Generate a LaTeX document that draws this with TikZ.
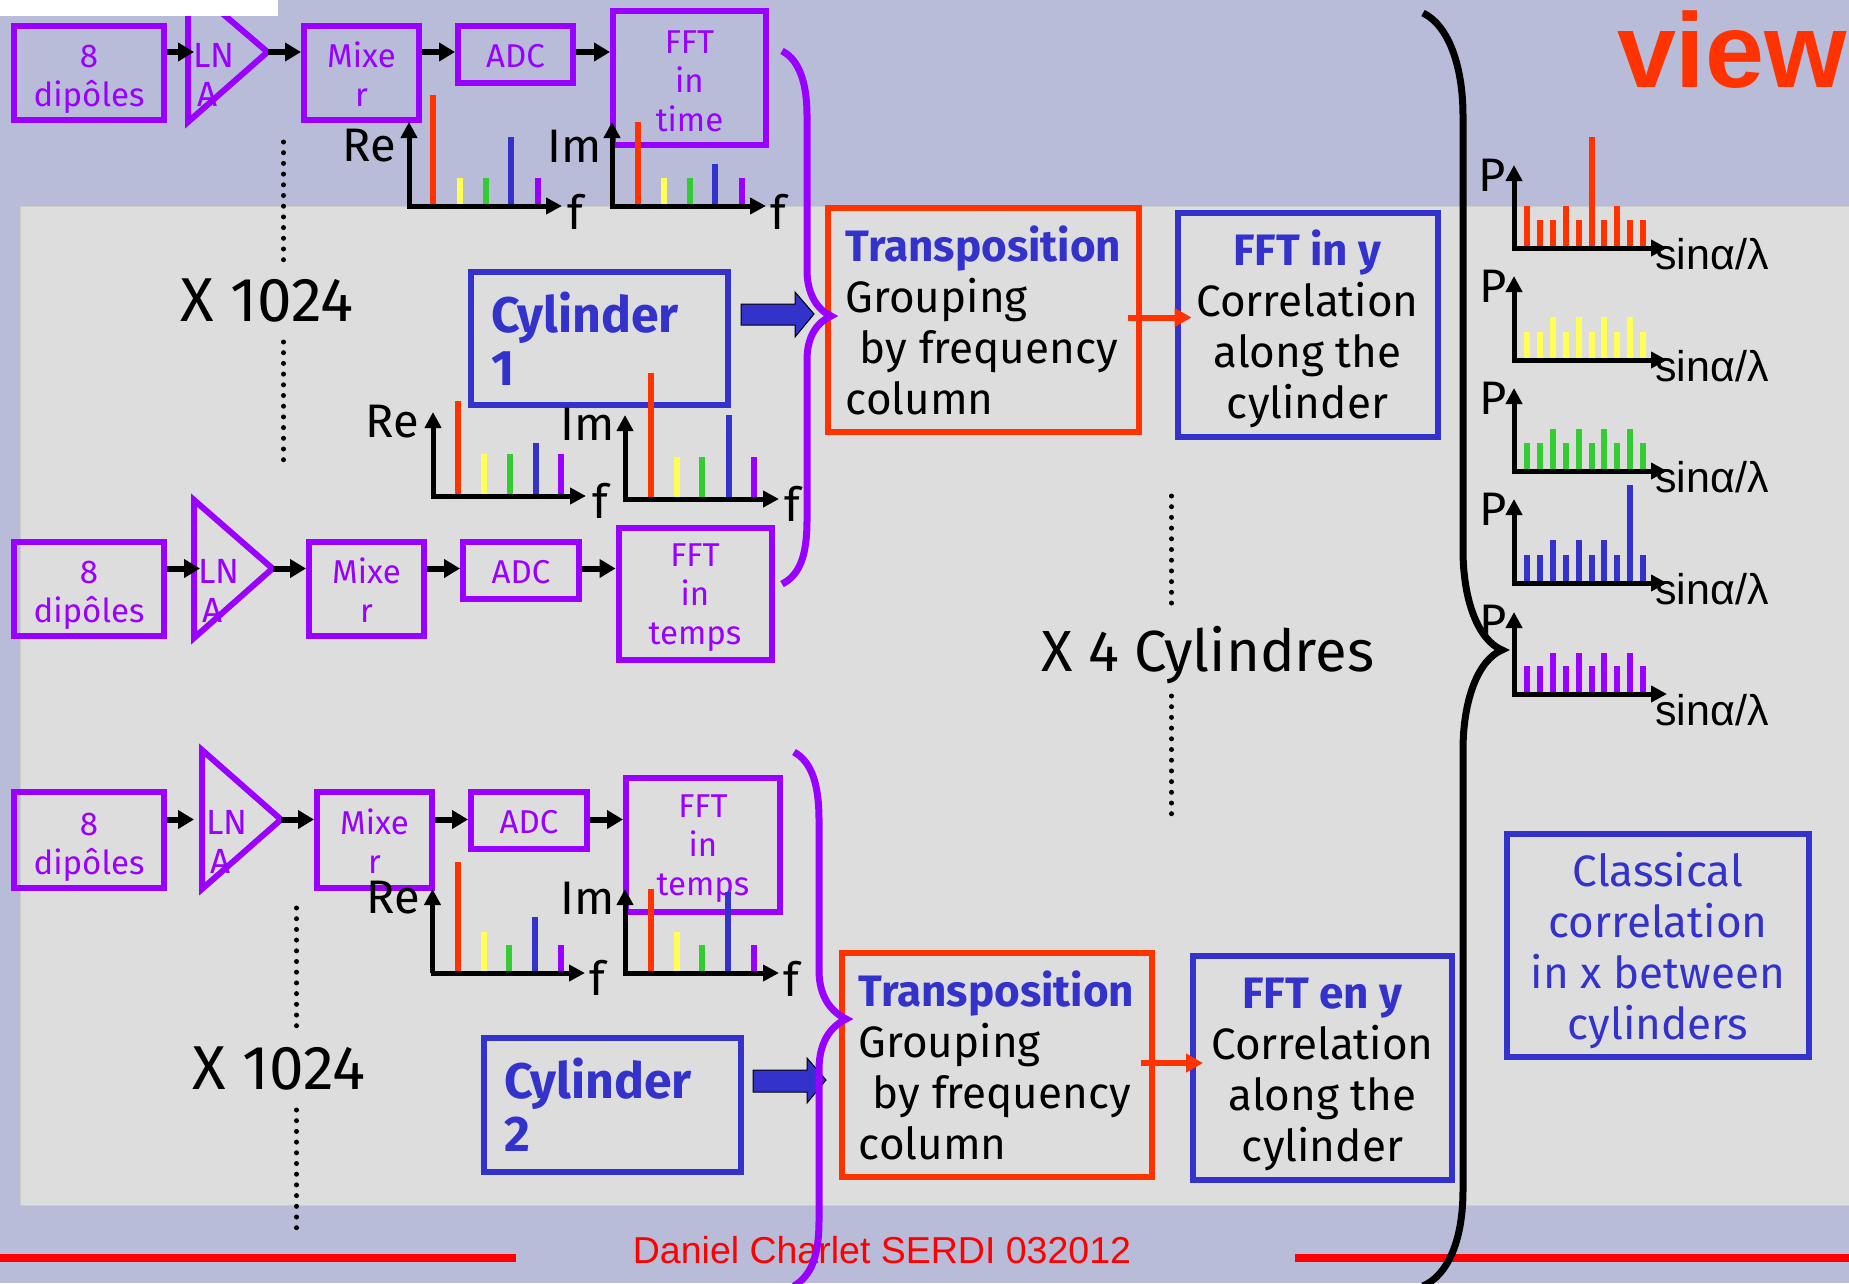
\documentclass[tikz,border=0pt]{standalone}
\usepackage{fontspec}
\setmainfont{Fira Sans}
\newfontfamily\footfont{Liberation Sans}
\usetikzlibrary{arrows.meta}
\definecolor{slidebg}{RGB}{184,188,216}
\definecolor{panelgrey}{RGB}{221,221,221}
\definecolor{violetline}{RGB}{153,0,255}
\definecolor{blueline}{RGB}{51,51,204}
\definecolor{redline}{RGB}{255,51,0}
\definecolor{baryellow}{RGB}{255,255,85}
\definecolor{bargreen}{RGB}{51,204,51}
\newcommand{\txt}[2]{\fontsize{#1pt}{#2pt}\selectfont}
\newcommand{\drop}[1]{\rule{0pt}{#1pt}}
\tikzset{
  x=1pt,y=-1pt,
  pbox/.style={draw=violetline,line width=6pt,inner sep=0pt,align=center,text=violetline,font=\txt{33}{39}},
  bbox/.style={draw=blueline,line width=6pt,inner sep=0pt},
  rbox/.style={draw=redline,line width=6pt,inner sep=0pt},
  tri/.style={draw=violetline,line width=6pt,miter limit=10},
  lnatext/.style={text=violetline,align=left,inner sep=0pt,anchor=west,font=\txt{35}{39}},
  chain/.style={line width=6pt,-{Triangle[length=16pt,width=18pt]}},
  axisline/.style={line width=5pt,-{Triangle[length=16pt,width=16pt]}},
  redarrow/.style={draw=redline,line width=6pt,-{Triangle[length=17pt,width=18pt]}},
  blockarrow/.style={draw=black,fill=blueline,line width=1pt},
  braceline/.style={line width=7pt},
  dotline/.style={line width=5pt,line cap=round,dash pattern=on 0pt off 10.7pt},
  bigtext/.style={text=black,font=\txt{62}{66}},
  smalllabel/.style={text=black,font=\txt{47}{50}},
  sinlabel/.style={text=black,font=\footfont\txt{43}{46}},
  cyltext/.style={text=blueline,align=left,font=\bfseries\txt{50}{53}},
  blocktext/.style={align=left,font=\txt{44}{51}},
}
\begin{document}
\begin{tikzpicture}
  \useasboundingbox (0,0) rectangle (1849,1283);
  \fill[slidebg] (0,0) rectangle (1849,1283);
  \draw[fill=panelgrey,draw=black!20,line width=1pt] (20,206) rectangle (1855,1205);

  % chain 1
  \node[pbox,minimum width=150pt,minimum height=94pt] (dipa) at (89,73) {\drop{36}8\\dipôles};
  \coordinate (lnaatip) at (267.5,52);
  \coordinate (lnaain) at (194,52);
  \draw[tri] (188,-16) -- (lnaatip) -- (188,122) -- cycle;
  \node[lnatext] (lnaa) at (193,75) {LN\\\hspace*{4pt}A};
  \node[pbox,minimum width=115pt,minimum height=94pt] (mixa) at (361.5,73) {\drop{28}Mixe\\r};
  \node[pbox,minimum width=115pt,minimum height=57pt] (adca) at (515.5,54.5) {\drop{26}ADC};
  \node[pbox,minimum width=153pt,minimum height=134pt] (ffta) at (689.5,78) {\drop{30}FFT\\in\\time};
  \draw[chain] (dipa.east |- lnaatip) -- (lnaain);
  \draw[chain] (lnaatip) -- (mixa.west |- lnaatip);
  \draw[chain] (mixa.east |- lnaatip) -- (adca.west |- lnaatip);
  \draw[chain] (adca.east |- lnaatip) -- (ffta.west |- lnaatip);
  \foreach \xa/\ya/\col in {433/95/redline,460/178/baryellow,486/178/bargreen,511/137/blueline,538/178/violetline,638/122/redline,664/178/baryellow,690/178/bargreen,715/164/blueline,742/178/violetline}
    \draw[\col,line width=6pt] (\xa,206) -- (\xa,\ya);
  \draw[axisline] (409,206) -- (409,122);
  \draw[axisline] (407,206) -- (562,206);
  \draw[axisline] (612,206) -- (612,122);
  \draw[axisline] (610,206) -- (766,206);
  \node[smalllabel] (rea) at (369,146) {Re};
  \node[smalllabel] (ima) at (575,146) {Im};
  \node[smalllabel] (fa) at (575,212) {f};
  \node[smalllabel] (fb) at (778,212) {f};
  \draw[dotline] (283.5,142) -- (283.5,260);
  \draw[dotline] (283.5,342) -- (283.5,461);
  \node[bigtext] (xa) at (267,301) {X 1024};

  \node[bbox,cyltext,minimum width=257pt,minimum height=133pt,text width=217pt] (cyla) at (599.5,338.5) {Cylinder\\1};
  \draw[blockarrow] (741,304) -- (795,304) -- (795,292) -- (814,314) -- (795,337) -- (795,325) -- (741,325) -- cycle;

  \foreach \xa/\ya/\col in {458/401/redline,484/454/baryellow,510/454/bargreen,535.5/443/blueline,561/454/violetline}
    \draw[\col,line width=6pt] (\xa,496) -- (\xa,\ya);
  \foreach \xa/\ya/\col in {651/373/redline,677/457/baryellow,702/457/bargreen,728.5/415/blueline,754/457/violetline}
    \draw[\col,line width=6pt] (\xa,499) -- (\xa,\ya);
  \draw[axisline] (433,496) -- (433,412);
  \draw[axisline] (431,496) -- (586,496);
  \draw[axisline] (625,499) -- (625,415);
  \draw[axisline] (623,499) -- (779,499);
  \node[smalllabel] (reb) at (392,422) {Re};
  \node[smalllabel] (imb) at (588,424) {Im};
  \node[smalllabel] (fc) at (600,501) {f};
  \node[smalllabel] (fd) at (792,504) {f};

  % chain 2
  \node[pbox,minimum width=150pt,minimum height=94pt] (dipb) at (89,589) {\drop{36}8\\dipôles};
  \coordinate (lnabtip) at (272.5,568.5);
  \coordinate (lnabin) at (200,568.5);
  \draw[tri] (194,500) -- (lnabtip) -- (194,638) -- cycle;
  \node[lnatext] (lnab) at (198,591) {LN\\\hspace*{4pt}A};
  \node[pbox,minimum width=115pt,minimum height=94pt] (mixb) at (366.5,589) {\drop{28}Mixe\\r};
  \node[pbox,minimum width=116pt,minimum height=57pt] (adcb) at (521,570.5) {\drop{26}ADC};
  \node[pbox,minimum width=153pt,minimum height=132pt] (fftb) at (695,594) {\drop{30}FFT\\in\\temps};
  \draw[chain] (dipb.east |- lnabtip) -- (lnabin);
  \draw[chain] (lnabtip) -- (mixb.west |- lnabtip);
  \draw[chain] (mixb.east |- lnabtip) -- (adcb.west |- lnabtip);
  \draw[chain] (adcb.east |- lnabtip) -- (fftb.west |- lnabtip);

  % chain 3
  \node[pbox,minimum width=150pt,minimum height=96pt] (dipc) at (89,840) {\drop{36}8\\dipôles};
  \coordinate (lnactip) at (281,819.5);
  \coordinate (lnacin) at (194,819.5);
  \draw[tri] (202,750) -- (lnactip) -- (202,889) -- cycle;
  \node[lnatext] (lnac) at (206,842) {LN\\\hspace*{4pt}A};
  \node[pbox,minimum width=115pt,minimum height=96pt] (mixc) at (374.5,840) {\drop{28}Mixe\\r};
  \node[pbox,minimum width=116pt,minimum height=57pt] (adcc) at (529,820.5) {\drop{26}ADC};
  \node[pbox,minimum width=154pt,minimum height=134pt] (fftc) at (703,845) {\drop{30}FFT\\in\\temps};
  \draw[chain] (dipc.east |- lnactip) -- (lnacin);
  \draw[chain] (lnactip) -- (mixc.west |- lnactip);
  \draw[chain] (mixc.east |- lnactip) -- (adcc.west |- lnactip);
  \draw[chain] (adcc.east |- lnactip) -- (fftc.west |- lnactip);
  \foreach \xa/\ya/\col in {458/862/redline,483.5/932/baryellow,509/945/bargreen,535/917/blueline,560.5/945/violetline,651/889/redline,676.5/932/baryellow,702/945/bargreen,728/892/blueline,753.5/945/violetline}
    \draw[\col,line width=6pt] (\xa,973) -- (\xa,\ya);
  \draw[axisline] (432.5,973) -- (432.5,889);
  \draw[axisline] (430.5,973) -- (585,973);
  \draw[axisline] (625,973) -- (625,889);
  \draw[axisline] (623,973) -- (779,973);
  \node[smalllabel] (rec) at (393,898) {Re};
  \node[smalllabel] (imc) at (588,898) {Im};
  \node[smalllabel] (fe) at (597,978) {f};
  \node[smalllabel] (ff) at (791,979) {f};
  \draw[dotline] (296.5,908) -- (296.5,1027);
  \draw[dotline] (296.5,1110) -- (296.5,1228);
  \node[bigtext] (xb) at (279,1068) {X 1024};

  \node[bbox,cyltext,minimum width=257pt,minimum height=134pt,text width=217pt] (cylb) at (612.5,1105) {Cylinder\\2};
  \draw[blockarrow] (753,1070) -- (807,1070) -- (807,1058) -- (826,1080) -- (807,1103) -- (807,1092) -- (753,1092) -- cycle;

  % transposition and fft blocks
  \node[rbox,blocktext,minimum width=311pt,minimum height=224pt] (tra) at (983.5,320) {\textcolor{blueline}{\bfseries Transposition}\\Grouping\\\hspace*{14pt}by frequency\\column};
  \node[bbox,blocktext,align=center,minimum width=260pt,minimum height=224pt] (ffa) at (1307.5,325) {\drop{44}\textcolor{blueline}{\bfseries FFT in y}\\Correlation\\along the\\cylinder};
  \node[rbox,blocktext,minimum width=310pt,minimum height=224pt] (trb) at (996.5,1065) {\textcolor{blueline}{\bfseries Transposition}\\Grouping\\\hspace*{14pt}by frequency\\column};
  \node[bbox,blocktext,align=center,minimum width=259pt,minimum height=224pt] (ffb) at (1322.5,1068) {\drop{44}\textcolor{blueline}{\bfseries FFT en y}\\Correlation\\along the\\cylinder};
  \coordinate (tipa) at (1191.5,317.5);
  \coordinate (tipb) at (1203,1063);
  \draw[redarrow] ([xshift=-14pt]tra.east |- tipa) -- (tipa);
  \draw[redarrow] ([xshift=-14pt]trb.east |- tipb) -- (tipb);
  \draw[dotline] (1171.5,496) -- (1171.5,613);
  \draw[dotline] (1171.5,696) -- (1171.5,814);
  \node[bigtext,font=\txt{58}{62}] (xc) at (1208,655) {X 4 Cylindres};
  \node[bbox,text=blueline,align=center,font=\txt{44}{51},minimum width=302pt,minimum height=223pt] (clas) at (1658,945.5) {\drop{44}Classical\\correlation\\in x between\\cylinders};

  % footer, under the braces
  \node[text=redline,font=\footfont\bfseries\txt{106}{120},anchor=base east,inner sep=0pt] (view) at (1847,87) {view};
  \fill[white] (0,0) rectangle (278,15.5);
  \draw[red,line width=8pt] (0,1258) -- (516,1258);
  \draw[red,line width=8pt] (1295,1258) -- (1849,1258);
  \node[text=red,font=\footfont\txt{37.5}{40},anchor=base,inner sep=0pt] (foot) at (882,1263) {Daniel Charlet SERDI 032012};

  % braces
  \draw[violetline,braceline] (782,51) .. controls (800,60) and (807,85) .. (807,115) -- (807,270) .. controls (807,295) and (818,310) .. (831,316) .. controls (818,322) and (807,335) .. (807,360) -- (807,520) .. controls (807,555) and (800,575) .. (782,584);
  \draw[violetline,braceline] (794,752) .. controls (812,762) and (819,785) .. (819,820) -- (819,970) .. controls (819,998) and (832,1012) .. (846,1019) .. controls (832,1026) and (819,1040) .. (819,1070) -- (819,1220) .. controls (819,1255) and (812,1275) .. (794,1286);
  \draw[black,braceline] (1423,13) .. controls (1448,25) and (1463,65) .. (1463,116) -- (1463,550) .. controls (1463,600) and (1478,640) .. (1502,650) .. controls (1478,660) and (1463,700) .. (1463,750) -- (1463,1190) .. controls (1463,1240) and (1448,1275) .. (1423,1286);

  % power spectra
  \foreach \yb/\yl/\yh/\yt/\ytop/\col/\pat in {
    248/220/206/137/165/redline/{1,0,0,1,0,2,0,1,0,0},
    360/332/317/317/276/baryellow/{0,0,1,0,1,0,1,0,1,0},
    471/443/429/429/388/bargreen/{0,0,1,0,1,0,1,0,1,0},
    583/555/540/485/499/blueline/{0,0,1,0,1,0,1,0,2,0},
    694/666/653/653/612/violetline/{0,0,1,0,1,0,1,0,1,0}}{
    \foreach \hi [count=\i] in \pat
      \draw[\col,line width=6pt] ({1527+(\i-1)*12.9},\yb) -- ({1527+(\i-1)*12.9},{\hi==2?\yt:(\hi==1?\yh:\yl)});
    \draw[axisline] (1514,\yb) -- (1514,\ytop);
    \draw[axisline] (1512,\yb) -- (1667,\yb);
  }
  \node[smalllabel] (pa) at (1492,175) {P};
  \node[smalllabel] (pb) at (1493,286) {P};
  \node[smalllabel] (pc) at (1493,398) {P};
  \node[smalllabel] (pd) at (1493,509) {P};
  \node[smalllabel] (pe) at (1493,621) {P};
  \node[sinlabel] (sa) at (1712,254) {sinα/λ};
  \node[sinlabel] (sb) at (1712,366) {sinα/λ};
  \node[sinlabel] (sc) at (1712,477) {sinα/λ};
  \node[sinlabel] (sd) at (1712,589) {sinα/λ};
  \node[sinlabel] (se) at (1712,710) {sinα/λ};
\end{tikzpicture}
\end{document}
